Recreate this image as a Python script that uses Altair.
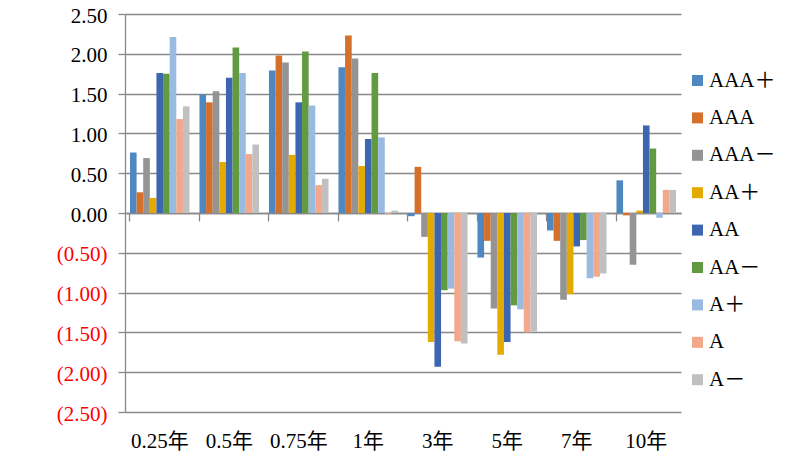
import altair as alt
import pandas as pd

categories = ["0.25年", "0.5年", "0.75年", "1年", "3年", "5年", "7年", "10年"]
series = ["AAA＋", "AAA", "AAA－", "AA＋", "AA", "AA－", "A＋", "A", "A－"]
colors = ["#4F88C1", "#D5702B", "#949494", "#E4AA00", "#3D66B0",
          "#619A41", "#9ABBE1", "#F2A88A", "#C0C0C0"]

v_aaa_p = [0.76, 1.49, 1.79, 1.83, -0.04, -0.56, -0.22, 0.41]
v_aaa = [0.26, 1.39, 1.98, 2.23, 0.58, -0.35, -0.35, -0.03]
v_aaa_m = [0.69, 1.53, 1.89, 1.94, -0.30, -1.20, -1.09, -0.65]
v_aa_p = [0.19, 0.64, 0.73, 0.59, -1.62, -1.78, -1.02, 0.03]
v_aa = [1.76, 1.70, 1.39, 0.93, -1.93, -1.62, -0.42, 1.10]
v_aa_m = [1.75, 2.08, 2.03, 1.76, -0.97, -1.16, -0.34, 0.81]
v_a_p = [2.21, 1.76, 1.35, 0.95, -0.95, -1.21, -0.82, -0.06]
v_a = [1.18, 0.74, 0.35, -0.01, -1.61, -1.50, -0.80, 0.29]
v_a_m = [1.34, 0.86, 0.43, 0.03, -1.64, -1.49, -0.76, 0.29]

y_ticks = [-2.5, -2.0, -1.5, -1.0, -0.5, 0.0, 0.5, 1.0, 1.5, 2.0, 2.5]

all_values = [v_aaa_p, v_aaa, v_aaa_m, v_aa_p, v_aa, v_aa_m, v_a_p, v_a, v_a_m]
rows = []
for s, vals in zip(series, all_values):
    for c, v in zip(categories, vals):
        rows.append({"cat": c, "series": s, "value": v})
df = pd.DataFrame(rows)

FONT = "Liberation Serif, Times New Roman, Noto Sans CJK SC, serif"
GRID = "#898989"
H = 398

y_scale = alt.Scale(domain=[-2.5, 2.5], nice=False, zero=False)

y_enc = alt.Y(
    "value:Q",
    scale=y_scale,
    axis=alt.Axis(
        values=y_ticks,
        title=None,
        grid=True,
        gridColor=GRID,
        gridWidth=1.3,
        domainColor=GRID,
        domainWidth=1.3,
        tickColor=GRID,
        tickWidth=1.3,
        tickSize=7,
        labelPadding=11,
        labelOffset=2,
        labelOverlap=False,
        labelBound=False,
        labelFont=FONT,
        labelFontSize=21,
        labelExpr="datum.value < 0 ? '(' + format(-datum.value, '.2f') + ')' : format(datum.value, '.2f') + '\u00a0'",
        labelColor={"condition": {"test": "datum.value < 0", "value": "#FF0000"}, "value": "#000000"},
    ),
)

x_scale = alt.Scale(paddingInner=0.143, paddingOuter=0.0715)
xoff = alt.XOffset("series:N", sort=series, scale=alt.Scale(paddingInner=0, paddingOuter=0))

color_enc = alt.Color(
    "series:N",
    sort=series,
    scale=alt.Scale(domain=series, range=colors),
    legend=alt.Legend(
        title=None,
        orient="none",
        legendX=562,
        legendY=56,
        symbolType="square",
        symbolSize=121,
        symbolStrokeWidth=0,
        labelFont=FONT,
        labelFontSize=21,
        labelColor="#000000",
        labelOffset=1,
        rowPadding=15.4,
        padding=0,
    ),
)

bars = alt.Chart(df).mark_bar().encode(
    x=alt.X("cat:N", sort=categories, scale=x_scale,
            axis=alt.Axis(title=None, labelAngle=0, domain=False, ticks=False,
                          labelPadding=18, labelOverlap=False, labelFont=FONT,
                          labelFontSize=21, labelColor="#000000", grid=False)),
    xOffset=xoff,
    y=y_enc,
    color=color_enc,
)

zero_axis = alt.Chart(df).mark_bar(opacity=0).encode(
    x=alt.X("cat:N", sort=categories, scale=x_scale,
            axis=alt.Axis(title=None, orient="bottom", offset=-H / 2, labels=False,
                          domain=True, domainColor=GRID, domainWidth=1.3,
                          ticks=True, tickColor=GRID, tickWidth=1.3, tickSize=8,
                          bandPosition=0, grid=False)),
    xOffset=xoff,
    y=y_enc,
)

chart = alt.layer(bars, zero_axis).resolve_axis(x="independent").properties(
    width=556,
    height=H,
    autosize=alt.AutoSizeParams(type="none"),
    padding={"left": 117, "top": 6, "right": 115, "bottom": 40},
).configure_view(stroke=None)

chart.save("out.html", embed_options={"renderer": "svg", "actions": False})
